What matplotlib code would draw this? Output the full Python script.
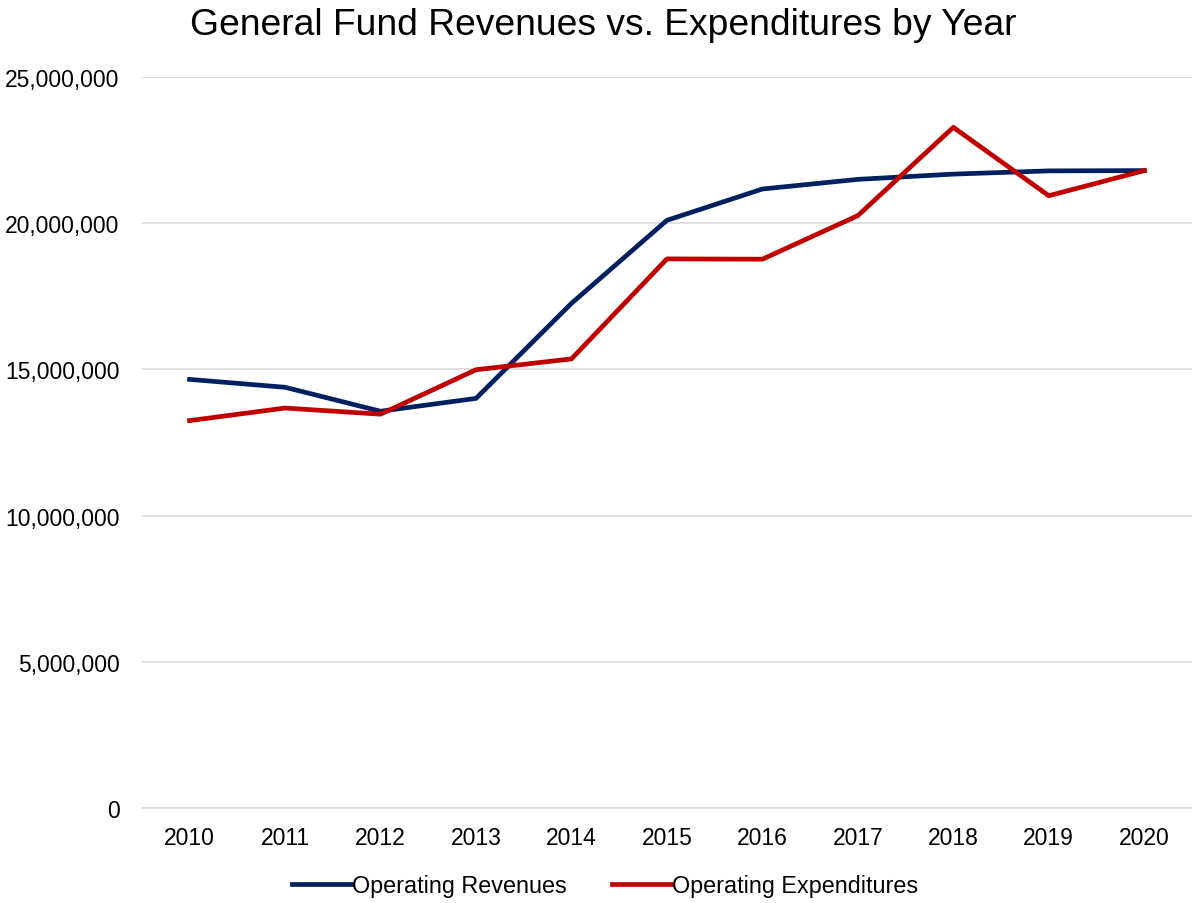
import matplotlib
matplotlib.use('Agg')
import matplotlib.pyplot as plt
from matplotlib.ticker import FuncFormatter

years = ['2010', '2011', '2012', '2013', '2014', '2015', '2016', '2017', '2018', '2019', '2020']
revenues = [14.66e6, 14.39e6, 13.57e6, 14.01e6, 17.26e6, 20.10e6, 21.17e6, 21.50e6, 21.68e6, 21.79e6, 21.80e6]
expenditures = [13.25e6, 13.68e6, 13.47e6, 14.99e6, 15.36e6, 18.78e6, 18.77e6, 20.26e6, 23.28e6, 20.94e6, 21.80e6]

plt.rcParams['font.family'] = ['Liberation Sans', 'DejaVu Sans']

fig = plt.figure(figsize=(11.92, 9.04), dpi=100)
ax = fig.add_axes([0.119, 0.105, 0.881, 0.8087])

x = list(range(len(years)))
ax.plot(x, revenues, color='#002060', linewidth=3.4, label='Operating Revenues')
ax.plot(x, expenditures, color='#C00000', linewidth=3.4, label='Operating Expenditures')

ax.set_xlim(-0.5, len(years) - 0.5)
ax.set_ylim(0, 25e6)
ax.set_yticks(range(0, 25000001, 5000000))
ax.yaxis.set_major_formatter(FuncFormatter(lambda v, p: f'{int(v):,}'))
ax.set_xticks(x)
ax.set_xticklabels(years)
ax.tick_params(axis='both', length=0, labelsize=16.5, colors='black')
ax.tick_params(axis='x', pad=13)
ax.tick_params(axis='y', pad=16)
ax.yaxis.grid(True, color='#D9D9D9', linewidth=1.2)
ax.set_axisbelow(True)
for s in ['top', 'right', 'left']:
    ax.spines[s].set_visible(False)
ax.spines['bottom'].set_color('#D9D9D9')
ax.spines['bottom'].set_linewidth(1.2)

fig.text(0.506, 0.972, 'General Fund Revenues vs. Expenditures by Year', ha='center', va='center', fontsize=26.8)

fig.legend(loc='center', bbox_to_anchor=(0.5076, 0.019), ncol=2, frameon=False, fontsize=16.8,
           handlelength=2.55, handletextpad=0.05, columnspacing=1.9)

fig.savefig('out.png', dpi=100)
